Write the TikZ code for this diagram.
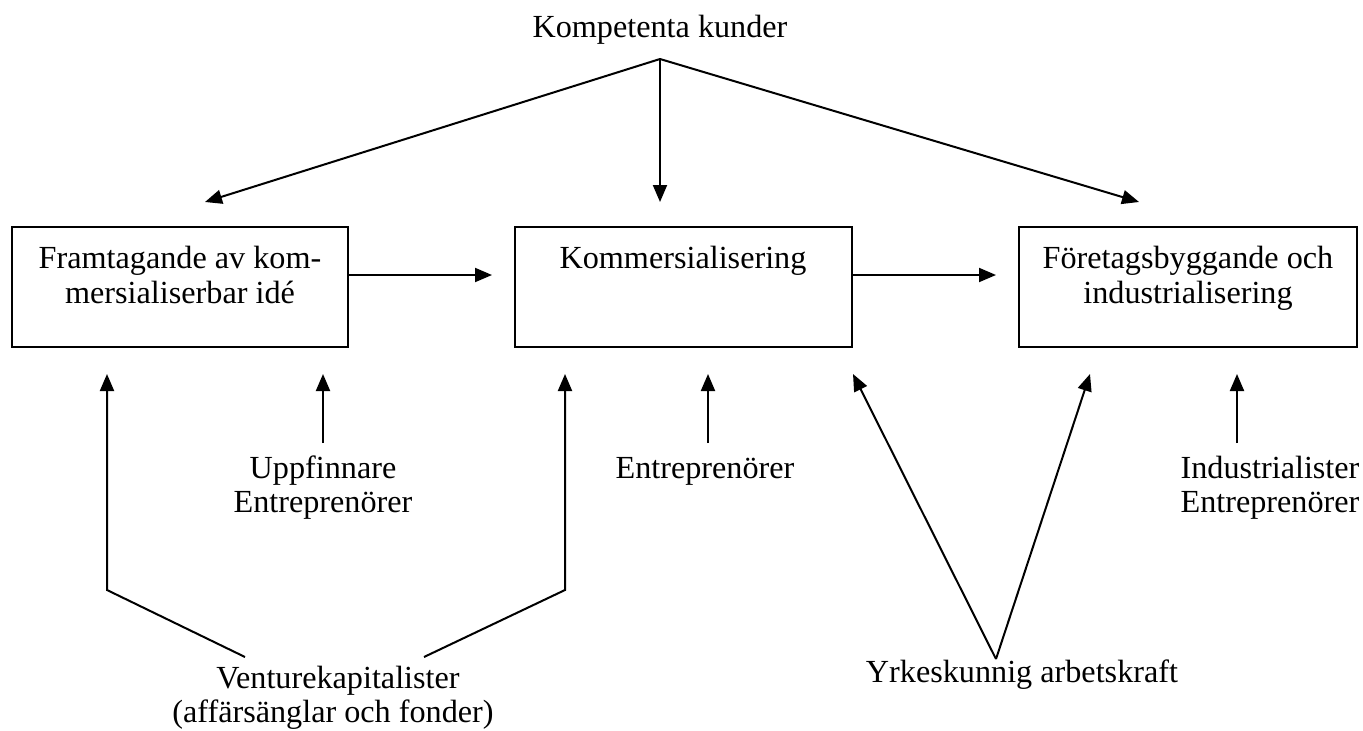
\documentclass[tikz,border=0pt]{standalone}
\usepackage{fontspec}
\setmainfont{Liberation Serif}
\usetikzlibrary{arrows.meta}
\begin{document}
\begin{tikzpicture}[x=1pt,y=-1pt,
  boxnode/.style={draw, line width=2pt, inner sep=0pt},
  lbl/.style={anchor=base, inner sep=0pt, font=\fontsize{32.2}{35}\selectfont},
  conn/.style={line width=2pt, -{Triangle[length=17pt,width=14pt]}},
  plain/.style={line width=1.8pt}]
\useasboundingbox (0,0) rectangle (1363,731);
% boxes
\node[boxnode, minimum width=336pt, minimum height=120pt] (b1) at (180,287) {};
\node[boxnode, minimum width=337pt, minimum height=120pt] (b2) at (683.5,287) {};
\node[boxnode, minimum width=338pt, minimum height=120pt] (b3) at (1188,287) {};
% box texts
\node[lbl] (t1a) at (180,268) {Framtagande av kom-};
\node[lbl] (t1b) at (180,303) {mersialiserbar idé};
\node[lbl] (t2a) at (683,268) {Kommersialisering};
\node[lbl] (t3a) at (1188,268) {Företagsbyggande och};
\node[lbl] (t3b) at (1188,303) {industrialisering};
% labels
\node[lbl] (kund) at (660,37) {Kompetenta kunder};
\node[lbl] (upp1) at (323,478) {Uppfinnare};
\node[lbl] (upp2) at (323,512) {Entreprenörer};
\node[lbl] (ent) at (705,478) {Entreprenörer};
\node[lbl] (ind1) at (1270,478) {Industrialister};
\node[lbl] (ind2) at (1270,512) {Entreprenörer};
\node[lbl] (ven1) at (338,688) {Venturekapitalister};
\node[lbl] (ven2) at (333,722) {(affärsänglar och fonder)};
\node[lbl] (yrk) at (1022,682) {Yrkeskunnig arbetskraft};
% coordinates
\coordinate (apex) at (660,59);
\coordinate (tk1) at (205,202);
\coordinate (tk2) at (660,202);
\coordinate (tk3) at (1139,202);
\coordinate (h1s) at (348,275);
\coordinate (h1e) at (492,275);
\coordinate (h2s) at (852,275);
\coordinate (h2e) at (996,275);
\coordinate (vu1) at (323,443);
\coordinate (vu1t) at (323,374);
\coordinate (ve1) at (708,443);
\coordinate (ve1t) at (708,374);
\coordinate (vi1) at (1237,443);
\coordinate (vi1t) at (1237,374);
\coordinate (vl) at (245,657);
\coordinate (vlc) at (107,590);
\coordinate (vlt) at (107,374);
\coordinate (vr) at (424,657);
\coordinate (vrc) at (565,590);
\coordinate (vrt) at (565,374);
\coordinate (ya) at (996,659);
\coordinate (yl) at (853,374);
\coordinate (yr) at (1090,374);
% connectors
\draw[conn] (apex) -- (tk1);
\draw[conn] (apex) -- (tk2);
\draw[conn] (apex) -- (tk3);
\draw[conn] (h1s) -- (h1e);
\draw[conn] (h2s) -- (h2e);
\draw[conn] (vu1) -- (vu1t);
\draw[conn] (ve1) -- (ve1t);
\draw[conn] (vi1) -- (vi1t);
\draw[conn] (vl) -- (vlc) -- (vlt);
\draw[conn] (vr) -- (vrc) -- (vrt);
\draw[conn] (ya) -- (yl);
\draw[conn] (ya) -- (yr);
\end{tikzpicture}
\end{document}
